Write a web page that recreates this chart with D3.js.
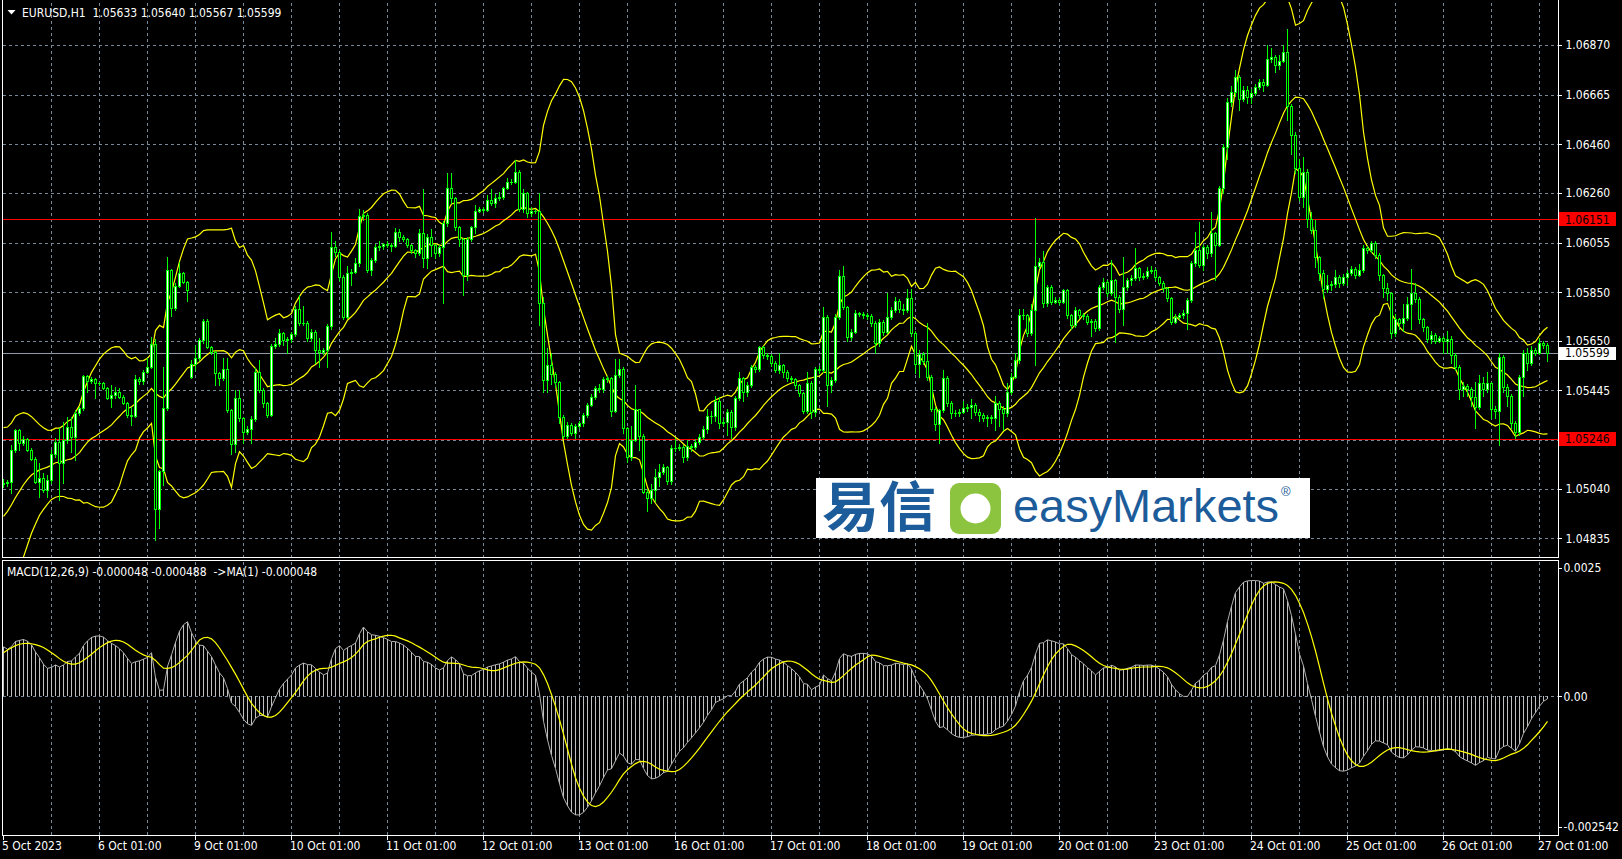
<!DOCTYPE html>
<html><head><meta charset="utf-8">
<script src="https://cdnjs.cloudflare.com/ajax/libs/d3/7.8.5/d3.min.js"></script>
<style>
html,body{margin:0;padding:0;background:#000;overflow:hidden}
svg text{font-family:'DejaVu Sans Condensed','DejaVu Sans',sans-serif;font-stretch:condensed;font-size:12px;fill:#fff}
</style></head><body><script>
// ---------------- DATA (EURUSD H1, 5 Oct 01:00 -> 27 Oct 03:00) ----------------
const dateLabels = ["5 Oct 2023","6 Oct 01:00","9 Oct 01:00","10 Oct 01:00","11 Oct 01:00","12 Oct 01:00","13 Oct 01:00","16 Oct 01:00","17 Oct 01:00","18 Oct 01:00","19 Oct 01:00","20 Oct 01:00","23 Oct 01:00","24 Oct 01:00","25 Oct 01:00","26 Oct 01:00","27 Oct 01:00"];
const labelBars = [0,24,48,72,96,120,144,168,192,216,240,264,288,312,336,360,384];
const priceTicks = [1.06870,1.06665,1.06460,1.06260,1.06055,1.05850,1.05650,1.05445,1.05240,1.05040,1.04835];
const macdTicks = [0.0025,0,-0.002542];
const macdTickText = ["0.0025","0.00","-0.002542"];
const redLevels = [1.06151,1.05246];
const lastPrice = 1.05599;
const titleText = "EURUSD,H1  1.05633 1.05640 1.05567 1.05599";
const macdText = "MACD(12,26,9) -0.000048 -0.000488  ->MA(1) -0.000048";
// closes estimated before the first visible bar (from the band / MACD levels at the left edge)
const warmupCloses = [1.04820,1.04830,1.04810,1.04800,1.04790,1.04780,1.04760,1.04750,1.04730,1.04720,1.04700,1.04690,1.04680,1.04670,1.04660,1.04650,1.04660,1.04680,1.04700,1.04720,1.04760,1.04800,1.04850,1.04880,1.04920,1.04960,1.05000,1.05050,1.05100,1.05150,1.05190,1.05180,1.05120,1.05080];

const opens = [1.05059,1.05062,1.05066,1.05199,1.05282,1.05227,1.05245,1.05199,1.05164,1.05066,1.05082,1.05034,
1.05076,1.05183,1.05232,1.05144,1.05241,1.05296,1.05252,1.05351,1.05371,1.05506,1.05485,1.05492,
1.05477,1.05474,1.05456,1.05412,1.05426,1.05440,1.05419,1.05394,1.05344,1.05340,1.05491,1.05485,
1.05520,1.05543,1.05635,1.04954,1.05113,1.05371,1.05942,1.05784,1.05876,1.05928,1.05891,1.05502,
1.05553,1.05577,1.05653,1.05733,1.05623,1.05605,1.05516,1.05495,1.05532,1.05364,1.05224,1.05412,
1.05330,1.05275,1.05285,1.05326,1.05522,1.05447,1.05392,1.05344,1.05628,1.05637,1.05683,1.05653,
1.05656,1.05678,1.05779,1.05722,1.05722,1.05660,1.05688,1.05612,1.05605,1.05612,1.05711,1.06038,
1.06018,1.05914,1.05749,1.05928,1.05935,1.05970,1.06165,1.06169,1.05942,1.05983,1.06038,1.06042,
1.06048,1.06045,1.06041,1.06100,1.06077,1.06069,1.06045,1.06024,1.06011,1.06096,1.05990,1.06077,
1.06045,1.06011,1.06038,1.06134,1.06282,1.06238,1.06118,1.06069,1.05921,1.06069,1.06118,1.06185,
1.06192,1.06189,1.06231,1.06220,1.06238,1.06242,1.06279,1.06304,1.06306,1.06348,1.06192,1.06258,
1.06178,1.06185,1.06187,1.05807,1.05488,1.05550,1.05513,1.05479,1.05337,1.05257,1.05303,1.05268,
1.05298,1.05309,1.05344,1.05385,1.05417,1.05454,1.05450,1.05491,1.05495,1.05362,1.05509,1.05532,
1.05289,1.05172,1.05241,1.05367,1.05257,1.05027,1.05000,1.05034,1.05087,1.05107,1.05128,1.05073,
1.05206,1.05209,1.05213,1.05169,1.05216,1.05213,1.05234,1.05252,1.05285,1.05340,1.05338,1.05403,
1.05312,1.05315,1.05357,1.05296,1.05412,1.05495,1.05440,1.05467,1.05543,1.05532,1.05623,1.05591,
1.05588,1.05557,1.05529,1.05549,1.05522,1.05495,1.05491,1.05467,1.05433,1.05362,1.05477,1.05357,
1.05532,1.05529,1.05747,1.05467,1.05488,1.05747,1.05917,1.05788,1.05664,1.05687,1.05763,1.05760,
1.05756,1.05752,1.05722,1.05639,1.05729,1.05687,1.05749,1.05777,1.05815,1.05780,1.05777,1.05825,
1.05680,1.05554,1.05595,1.05568,1.05502,1.05367,1.05307,1.05364,1.05495,1.05392,1.05351,1.05353,
1.05357,1.05371,1.05375,1.05385,1.05357,1.05344,1.05330,1.05334,1.05330,1.05395,1.05367,1.05351,
1.05440,1.05502,1.05571,1.05756,1.05755,1.05681,1.05777,1.05958,1.05976,1.05804,1.05873,1.05811,
1.05818,1.05811,1.05859,1.05756,1.05715,1.05777,1.05756,1.05752,1.05729,1.05732,1.05701,1.05873,
1.05894,1.05846,1.05901,1.05832,1.05780,1.05873,1.05901,1.05907,1.05949,1.05914,1.05917,1.05939,
1.05942,1.05912,1.05890,1.05866,1.05825,1.05729,1.05749,1.05756,1.05766,1.05818,1.05969,1.06024,
1.05962,1.06038,1.06011,1.06093,1.06045,1.06279,1.06451,1.06636,1.06677,1.06739,1.06646,1.06684,
1.06657,1.06673,1.06698,1.06719,1.06705,1.06811,1.06819,1.06787,1.06805,1.06842,1.06618,1.06499,
1.06361,1.06244,1.06347,1.06151,1.06107,1.05994,1.05931,1.05862,1.05880,1.05883,1.05912,1.05887,
1.05914,1.05928,1.05945,1.05921,1.05942,1.06031,1.06024,1.06055,1.06004,1.05921,1.05866,1.05846,
1.05683,1.05738,1.05722,1.05742,1.05802,1.05848,1.05821,1.05738,1.05705,1.05656,1.05674,1.05650,
1.05660,1.05650,1.05656,1.05591,1.05543,1.05450,1.05463,1.05450,1.05419,1.05378,1.05474,1.05450,
1.05474,1.05367,1.05361,1.05581,1.05460,1.05422,1.05312,1.05275,1.05499,1.05601,1.05557,1.05612,
1.05601,1.05639,1.05633];

const highs = [1.05080,1.05076,1.05220,1.05285,1.05285,1.05255,1.05250,1.05206,1.05172,1.05144,1.05103,1.05096,
1.05199,1.05247,1.05289,1.05316,1.05337,1.05337,1.05364,1.05378,1.05509,1.05509,1.05502,1.05495,
1.05481,1.05481,1.05460,1.05467,1.05460,1.05454,1.05426,1.05399,1.05378,1.05509,1.05502,1.05529,
1.05577,1.05666,1.05656,1.05118,1.05543,1.05997,1.05946,1.05887,1.05976,1.05935,1.05895,1.05570,
1.05632,1.05660,1.05740,1.05740,1.05628,1.05609,1.05522,1.05577,1.05577,1.05370,1.05447,1.05447,
1.05337,1.05300,1.05340,1.05536,1.05570,1.05454,1.05399,1.05637,1.05660,1.05700,1.05687,1.05666,
1.05687,1.05792,1.05839,1.05792,1.05730,1.05700,1.05695,1.05660,1.05620,1.05720,1.06100,1.06060,
1.06025,1.05920,1.05960,1.05945,1.05990,1.06192,1.06190,1.06175,1.05990,1.06050,1.06060,1.06055,
1.06060,1.06055,1.06115,1.06110,1.06085,1.06075,1.06050,1.06030,1.06110,1.06275,1.06090,1.06110,
1.06050,1.06045,1.06145,1.06341,1.06341,1.06245,1.06125,1.06075,1.06080,1.06125,1.06210,1.06200,
1.06200,1.06250,1.06275,1.06255,1.06262,1.06285,1.06320,1.06318,1.06396,1.06355,1.06275,1.06265,
1.06200,1.06195,1.06258,1.05830,1.05619,1.05600,1.05520,1.05485,1.05345,1.05315,1.05310,1.05305,
1.05320,1.05350,1.05395,1.05430,1.05465,1.05470,1.05500,1.05505,1.05500,1.05574,1.05574,1.05540,
1.05295,1.05300,1.05467,1.05370,1.05265,1.05040,1.05060,1.05120,1.05140,1.05140,1.05135,1.05218,
1.05250,1.05225,1.05220,1.05240,1.05225,1.05245,1.05265,1.05300,1.05370,1.05360,1.05420,1.05419,
1.05330,1.05370,1.05365,1.05420,1.05520,1.05500,1.05480,1.05550,1.05550,1.05630,1.05630,1.05598,
1.05595,1.05565,1.05600,1.05555,1.05530,1.05505,1.05498,1.05472,1.05440,1.05520,1.05485,1.05540,
1.05545,1.05790,1.05755,1.05500,1.05760,1.05942,1.05958,1.05795,1.05700,1.05775,1.05770,1.05770,
1.05765,1.05760,1.05730,1.05740,1.05735,1.05846,1.05790,1.05830,1.05822,1.05800,1.05862,1.05862,
1.05690,1.05610,1.05605,1.05722,1.05510,1.05375,1.05370,1.05530,1.05505,1.05400,1.05365,1.05370,
1.05400,1.05390,1.05410,1.05395,1.05370,1.05350,1.05345,1.05345,1.05420,1.05400,1.05380,1.05475,
1.05515,1.05600,1.05780,1.05780,1.05760,1.05800,1.06155,1.05990,1.06020,1.05880,1.05880,1.05830,
1.05825,1.05865,1.05862,1.05760,1.05790,1.05780,1.05765,1.05760,1.05740,1.05740,1.05880,1.05910,
1.05900,1.05985,1.05905,1.05840,1.05997,1.05910,1.05920,1.06031,1.05955,1.05930,1.05955,1.05960,
1.05950,1.05918,1.05895,1.05870,1.05830,1.05760,1.05765,1.05775,1.05825,1.05980,1.06100,1.06140,
1.06045,1.06045,1.06180,1.06100,1.06290,1.06460,1.06650,1.06700,1.06768,1.06745,1.06700,1.06700,
1.06690,1.06710,1.06730,1.06730,1.06870,1.06856,1.06830,1.06830,1.06870,1.06935,1.06625,1.06510,
1.06400,1.06410,1.06360,1.06180,1.06150,1.06000,1.05940,1.05920,1.05895,1.05940,1.05920,1.05925,
1.05940,1.05960,1.05955,1.05965,1.06045,1.06040,1.06060,1.06060,1.06010,1.05925,1.05890,1.05850,
1.05760,1.05745,1.05800,1.05830,1.05948,1.05890,1.05830,1.05745,1.05710,1.05690,1.05680,1.05670,
1.05670,1.05690,1.05670,1.05600,1.05550,1.05480,1.05470,1.05460,1.05480,1.05510,1.05500,1.05520,
1.05480,1.05380,1.05598,1.05590,1.05470,1.05430,1.05320,1.05510,1.05610,1.05620,1.05630,1.05620,
1.05660,1.05650,1.05640];

const lows = [1.05045,1.05050,1.05020,1.05190,1.05200,1.05220,1.05196,1.05158,1.05062,1.05007,1.05027,1.05007,
1.05062,1.05172,1.04993,1.05062,1.05227,1.05192,1.05158,1.05344,1.05364,1.05440,1.05474,1.05412,
1.05467,1.05450,1.05408,1.05378,1.05412,1.05412,1.05389,1.05337,1.05302,1.05337,1.05471,1.05471,
1.05516,1.05536,1.04830,1.04876,1.05055,1.05364,1.05750,1.05776,1.05870,1.05887,1.05815,1.05495,
1.05530,1.05570,1.05640,1.05618,1.05595,1.05467,1.05467,1.05488,1.05357,1.05183,1.05192,1.05320,
1.05227,1.05265,1.05227,1.05320,1.05440,1.05378,1.05337,1.05340,1.05618,1.05630,1.05633,1.05598,
1.05645,1.05670,1.05715,1.05715,1.05650,1.05650,1.05557,1.05540,1.05595,1.05540,1.05700,1.06000,
1.05900,1.05740,1.05745,1.05880,1.05928,1.05960,1.06150,1.05935,1.05921,1.05975,1.06025,1.06030,
1.06035,1.06020,1.06035,1.06060,1.06060,1.06035,1.06010,1.05995,1.06005,1.05956,1.05950,1.06000,
1.05990,1.06000,1.05805,1.06125,1.06220,1.06105,1.06040,1.05839,1.05900,1.06060,1.06093,1.06180,
1.06180,1.06185,1.06210,1.06200,1.06230,1.06235,1.06275,1.06295,1.06300,1.06185,1.06180,1.06160,
1.06165,1.06175,1.05715,1.05440,1.05440,1.05470,1.05460,1.05310,1.05250,1.05250,1.05260,1.05248,
1.05290,1.05300,1.05335,1.05380,1.05410,1.05440,1.05440,1.05480,1.05340,1.05355,1.05500,1.05270,
1.05151,1.05160,1.05235,1.05200,1.05020,1.04949,1.04980,1.04990,1.05050,1.05100,1.05060,1.05060,
1.05195,1.05200,1.05150,1.05160,1.05195,1.05205,1.05225,1.05245,1.05270,1.05310,1.05320,1.05290,
1.05300,1.05260,1.05250,1.05280,1.05405,1.05400,1.05420,1.05460,1.05520,1.05525,1.05580,1.05575,
1.05545,1.05520,1.05515,1.05500,1.05485,1.05480,1.05455,1.05420,1.05350,1.05350,1.05330,1.05340,
1.05515,1.05520,1.05380,1.05440,1.05480,1.05740,1.05780,1.05650,1.05655,1.05680,1.05750,1.05745,
1.05740,1.05710,1.05600,1.05630,1.05675,1.05680,1.05740,1.05770,1.05770,1.05760,1.05770,1.05670,
1.05515,1.05500,1.05555,1.05490,1.05360,1.05280,1.05230,1.05358,1.05380,1.05330,1.05340,1.05340,
1.05350,1.05360,1.05330,1.05345,1.05320,1.05320,1.05300,1.05310,1.05280,1.05300,1.05280,1.05340,
1.05430,1.05495,1.05560,1.05740,1.05670,1.05675,1.05550,1.05950,1.05790,1.05795,1.05800,1.05805,
1.05800,1.05805,1.05745,1.05700,1.05705,1.05745,1.05740,1.05720,1.05670,1.05690,1.05695,1.05865,
1.05835,1.05840,1.05646,1.05770,1.05715,1.05860,1.05880,1.05900,1.05900,1.05905,1.05910,1.05930,
1.05900,1.05880,1.05855,1.05815,1.05720,1.05722,1.05740,1.05745,1.05700,1.05810,1.05960,1.05955,
1.05940,1.05990,1.06000,1.05900,1.06040,1.06260,1.06400,1.06620,1.06660,1.06600,1.06640,1.06630,
1.06630,1.06665,1.06690,1.06680,1.06700,1.06800,1.06760,1.06770,1.06800,1.06560,1.06420,1.06340,
1.06230,1.06200,1.06120,1.06095,1.05955,1.05900,1.05825,1.05850,1.05860,1.05870,1.05870,1.05880,
1.05880,1.05920,1.05910,1.05915,1.05935,1.06010,1.06015,1.05990,1.05900,1.05830,1.05820,1.05660,
1.05670,1.05700,1.05690,1.05735,1.05700,1.05810,1.05725,1.05690,1.05645,1.05640,1.05640,1.05645,
1.05600,1.05600,1.05560,1.05530,1.05410,1.05420,1.05420,1.05380,1.05290,1.05370,1.05420,1.05440,
1.05330,1.05330,1.05220,1.05440,1.05380,1.05290,1.05247,1.05260,1.05420,1.05530,1.05550,1.05590,
1.05595,1.05620,1.05567];

const closes = [1.05062,1.05066,1.05199,1.05282,1.05227,1.05245,1.05199,1.05164,1.05066,1.05082,1.05034,1.05076,
1.05183,1.05232,1.05144,1.05241,1.05296,1.05252,1.05351,1.05371,1.05506,1.05485,1.05492,1.05477,
1.05474,1.05456,1.05412,1.05426,1.05440,1.05419,1.05394,1.05344,1.05340,1.05491,1.05485,1.05520,
1.05543,1.05635,1.04954,1.05113,1.05371,1.05942,1.05784,1.05876,1.05928,1.05891,1.05859,1.05553,
1.05577,1.05653,1.05733,1.05623,1.05605,1.05516,1.05495,1.05532,1.05364,1.05224,1.05412,1.05330,
1.05275,1.05285,1.05326,1.05522,1.05447,1.05392,1.05344,1.05628,1.05637,1.05683,1.05653,1.05656,
1.05678,1.05779,1.05722,1.05722,1.05660,1.05688,1.05612,1.05605,1.05612,1.05711,1.06038,1.06018,
1.05914,1.05749,1.05928,1.05935,1.05970,1.06165,1.06169,1.05942,1.05983,1.06038,1.06042,1.06048,
1.06045,1.06041,1.06100,1.06077,1.06069,1.06045,1.06024,1.06011,1.06096,1.05990,1.06077,1.06045,
1.06011,1.06038,1.06134,1.06282,1.06238,1.06118,1.06069,1.05921,1.06069,1.06118,1.06185,1.06192,
1.06189,1.06231,1.06220,1.06238,1.06242,1.06279,1.06304,1.06306,1.06348,1.06192,1.06258,1.06178,
1.06185,1.06187,1.05807,1.05488,1.05550,1.05513,1.05479,1.05337,1.05257,1.05303,1.05268,1.05298,
1.05309,1.05344,1.05385,1.05417,1.05454,1.05450,1.05491,1.05495,1.05362,1.05509,1.05532,1.05289,
1.05172,1.05241,1.05367,1.05257,1.05027,1.05000,1.05034,1.05087,1.05107,1.05128,1.05073,1.05206,
1.05209,1.05213,1.05169,1.05216,1.05213,1.05234,1.05252,1.05285,1.05340,1.05338,1.05403,1.05312,
1.05315,1.05357,1.05296,1.05412,1.05495,1.05440,1.05467,1.05543,1.05532,1.05623,1.05591,1.05588,
1.05557,1.05529,1.05549,1.05522,1.05495,1.05491,1.05467,1.05433,1.05362,1.05477,1.05357,1.05532,
1.05529,1.05747,1.05467,1.05488,1.05747,1.05917,1.05788,1.05664,1.05687,1.05763,1.05760,1.05756,
1.05752,1.05722,1.05639,1.05729,1.05687,1.05749,1.05777,1.05815,1.05780,1.05777,1.05825,1.05680,
1.05554,1.05595,1.05568,1.05502,1.05367,1.05307,1.05364,1.05495,1.05392,1.05351,1.05353,1.05357,
1.05371,1.05375,1.05385,1.05357,1.05344,1.05330,1.05334,1.05330,1.05395,1.05367,1.05351,1.05440,
1.05502,1.05571,1.05756,1.05755,1.05681,1.05777,1.05958,1.05976,1.05804,1.05873,1.05811,1.05818,
1.05811,1.05859,1.05756,1.05715,1.05777,1.05756,1.05752,1.05729,1.05732,1.05701,1.05873,1.05894,
1.05846,1.05901,1.05832,1.05780,1.05873,1.05901,1.05907,1.05949,1.05914,1.05917,1.05939,1.05942,
1.05912,1.05890,1.05866,1.05825,1.05729,1.05749,1.05756,1.05766,1.05818,1.05969,1.06024,1.05962,
1.06038,1.06011,1.06093,1.06045,1.06279,1.06451,1.06636,1.06677,1.06739,1.06646,1.06684,1.06657,
1.06673,1.06698,1.06719,1.06705,1.06811,1.06819,1.06787,1.06805,1.06842,1.06618,1.06499,1.06361,
1.06244,1.06347,1.06151,1.06107,1.05994,1.05931,1.05862,1.05880,1.05883,1.05912,1.05887,1.05914,
1.05928,1.05945,1.05921,1.05942,1.06031,1.06024,1.06055,1.06004,1.05921,1.05866,1.05846,1.05683,
1.05738,1.05722,1.05742,1.05802,1.05848,1.05821,1.05738,1.05705,1.05656,1.05674,1.05650,1.05660,
1.05650,1.05656,1.05591,1.05543,1.05450,1.05463,1.05450,1.05419,1.05378,1.05474,1.05450,1.05474,
1.05367,1.05361,1.05581,1.05460,1.05422,1.05312,1.05275,1.05499,1.05601,1.05557,1.05612,1.05601,
1.05639,1.05633,1.05599];

// ---------------- LAYOUT ----------------
const W = 1622, H = 859;
const L = 2.5, R = 1558.5, mainTop = 1.5, mainBot = 557.5, macdTop = 560.5, macdBot = 835.5;
const n = closes.length;
const LIME = '#00ff00', GRID = '#778899', YEL = '#ffff00', SILVER = '#c0c0c0';

const x = d3.scaleLinear().domain([0, 386]).range([3.5, 1547.5]);
const y = d3.scaleLinear().domain([1.04835, 1.06870]).range([538.3, 45]);
const ym = d3.scaleLinear().domain([-0.002542, 0.0025]).range([826.5, 568]);
const sy = v => Math.round(y(v)) + 0.5;
const sym = v => Math.round(ym(v)) + 0.5;

// ---------------- INDICATORS (from the closes) ----------------
const all = warmupCloses.concat(closes);
function ema(arr, p) { const k = 2 / (p + 1); const out = []; arr.forEach((v, i) => out.push(i === 0 ? v : out[i - 1] + k * (v - out[i - 1]))); return out; }
const e12 = ema(all, 12), e26 = ema(all, 26);
const macdAll = all.map((v, i) => e12[i] - e26[i]);
const sigAll = macdAll.map((v, i) => d3.mean(macdAll.slice(Math.max(0, i - 8), i + 1)));
const bbAll = all.map((v, i) => {
  const w = all.slice(Math.max(0, i - 19), i + 1); const m = d3.mean(w);
  const sd = Math.sqrt(d3.mean(w.map(a => (a - m) * (a - m))));
  return { m: m, u: m + 2 * sd, l: m - 2 * sd };
});
const off = warmupCloses.length;
const macd = macdAll.slice(off), signal = sigAll.slice(off), bands = bbAll.slice(off);

// ---------------- SVG ----------------
const svg = d3.select('body').append('svg').attr('width', W).attr('height', H);
svg.append('rect').attr('width', W).attr('height', H).attr('fill', '#000');
const defs = svg.append('defs');
defs.append('clipPath').attr('id', 'cMain').append('rect').attr('x', 3).attr('y', 2).attr('width', 1555).attr('height', 555);
defs.append('clipPath').attr('id', 'cMacd').append('rect').attr('x', 3).attr('y', 561).attr('width', 1555).attr('height', 274);

// grid
const grid = svg.append('g').attr('stroke', GRID).attr('stroke-dasharray', '3,3').attr('shape-rendering', 'crispEdges');
grid.selectAll('line.h').data(priceTicks).join('line').attr('class', 'h')
  .attr('x1', L).attr('x2', R).attr('y1', d => sy(d)).attr('y2', d => sy(d));
const vBars = d3.range(12, n, 12);
grid.selectAll('line.v').data(vBars).join('line').attr('class', 'v')
  .attr('x1', d => x(d)).attr('x2', d => x(d)).attr('y1', mainTop + 1).attr('y2', mainBot);
grid.selectAll('line.vm').data(vBars).join('line').attr('class', 'vm')
  .attr('x1', d => x(d)).attr('x2', d => x(d)).attr('y1', macdTop + 1).attr('y2', macdBot);
grid.append('line').attr('x1', L).attr('x2', R).attr('y1', sym(0)).attr('y2', sym(0));

// horizontal level lines
const main = svg.append('g').attr('clip-path', 'url(#cMain)');
main.selectAll('line.red').data(redLevels).join('line').attr('class', 'red')
  .attr('x1', L).attr('x2', R).attr('y1', d => sy(d)).attr('y2', d => sy(d))
  .attr('stroke', '#ff0000').attr('shape-rendering', 'crispEdges');
main.append('line').attr('x1', L).attr('x2', R).attr('y1', sy(lastPrice)).attr('y2', sy(lastPrice))
  .attr('stroke', '#8f9aa8').attr('shape-rendering', 'crispEdges');

// Bollinger bands
['u', 'm', 'l'].forEach(k => {
  main.append('path').datum(bands).attr('fill', 'none').attr('stroke', YEL).attr('stroke-width', 1.2)
    .attr('d', d3.line().x((d, i) => x(i)).y(d => y(d[k])));
});

// candles
const idx = d3.range(n);
const cg = main.append('g').attr('shape-rendering', 'crispEdges');
cg.selectAll('line.wick').data(idx).join('line').attr('class', 'wick')
  .attr('x1', i => x(i)).attr('x2', i => x(i))
  .attr('y1', i => Math.round(y(highs[i]))).attr('y2', i => Math.round(y(lows[i])) + 1)
  .attr('stroke', LIME);
const bodyTop = i => Math.round(y(Math.max(opens[i], closes[i])));
const bodyBot = i => Math.round(y(Math.min(opens[i], closes[i])));
cg.selectAll('rect.body').data(idx.filter(i => bodyBot(i) > bodyTop(i))).join('rect').attr('class', 'body')
  .attr('x', i => x(i) - 1).attr('width', 2)
  .attr('y', i => bodyTop(i) + 0.5).attr('height', i => bodyBot(i) - bodyTop(i))
  .attr('fill', i => closes[i] >= opens[i] ? '#ffffff' : '#000000').attr('stroke', LIME);
cg.selectAll('line.doji').data(idx.filter(i => bodyBot(i) <= bodyTop(i))).join('line').attr('class', 'doji')
  .attr('x1', i => x(i) - 1.5).attr('x2', i => x(i) + 1.5)
  .attr('y1', i => bodyTop(i) + 0.5).attr('y2', i => bodyTop(i) + 0.5).attr('stroke', LIME);

// watermark logo
const logo = svg.append('g');
logo.append('rect').attr('x', 816).attr('y', 478).attr('width', 494).attr('height', 60).attr('fill', '#ffffff');
logo.append('text').attr('x', 822).attr('y', 527).text('易信')
  .style('font-family', "'Noto Sans CJK SC'").style('font-size', '54px').style('font-weight', 700)
  .style('fill', '#1d5c9a').attr('textLength', 114).attr('lengthAdjust', 'spacingAndGlyphs');
logo.append('rect').attr('x', 950).attr('y', 483).attr('width', 51).attr('height', 51).attr('rx', 9).attr('fill', '#8cc43f');
logo.append('circle').attr('cx', 975.5).attr('cy', 508.5).attr('r', 15).attr('fill', '#ffffff');
logo.append('text').attr('x', 1013).attr('y', 522).text('easyMarkets')
  .style('font-family', "'Liberation Sans',Arial,sans-serif").style('font-size', '46px').style('font-stretch', 'normal')
  .style('fill', '#1d5c9a').attr('textLength', 266).attr('lengthAdjust', 'spacingAndGlyphs');
logo.append('text').attr('x', 1281).attr('y', 496).text('®')
  .style('font-family', "'Liberation Sans',Arial,sans-serif").style('font-size', '13px').style('fill', '#1d5c9a');

// MACD panel
const mg = svg.append('g').attr('clip-path', 'url(#cMacd)');
const z0 = Math.round(ym(0));
mg.append('g').attr('shape-rendering', 'crispEdges').selectAll('line').data(idx).join('line')
  .attr('x1', i => x(i)).attr('x2', i => x(i))
  .attr('y1', z0).attr('y2', i => Math.round(ym(macd[i])))
  .attr('stroke', SILVER);
mg.append('path').datum(macd).attr('fill', 'none').attr('stroke', '#b0b0b0').attr('stroke-width', 1)
  .attr('d', d3.line().x((d, i) => x(i)).y(d => ym(d)));
mg.append('path').datum(signal).attr('fill', 'none').attr('stroke', YEL).attr('stroke-width', 1.2)
  .attr('d', d3.line().x((d, i) => x(i)).y(d => ym(d)));

// frames
const fr = svg.append('g').attr('stroke', '#ffffff').attr('fill', 'none').attr('shape-rendering', 'crispEdges');
fr.append('path').attr('d', `M${L},0 V${mainBot} H${R} V0`);
fr.append('path').attr('d', `M${L},${macdTop} H${R} V${macdBot} H${L} Z`);

// right price axis
const fontFam = "'DejaVu Sans Condensed','DejaVu Sans',sans-serif";
const ay = svg.append('g').attr('transform', `translate(${R},0)`)
  .call(d3.axisRight(y).tickValues(priceTicks).tickSize(3).tickPadding(4).tickFormat(d3.format('.5f')));
ay.select('.domain').remove();
ay.selectAll('line').attr('stroke', '#fff').attr('shape-rendering', 'crispEdges');
ay.selectAll('text').attr('fill', '#fff').style('font-family', fontFam).style('font-size', '12px');

// level labels
const lab = svg.append('g');
redLevels.forEach(v => {
  lab.append('rect').attr('x', 1559).attr('y', Math.round(y(v)) - 7).attr('width', 57).attr('height', 14).attr('fill', '#ff0000');
  lab.append('text').attr('x', 1565).attr('y', y(v)).attr('dy', '0.36em').text(d3.format('.5f')(v)).style('fill', '#000');
});
lab.append('rect').attr('x', 1559).attr('y', Math.round(y(lastPrice)) - 6).attr('width', 57).attr('height', 13).attr('fill', '#ffffff');
lab.append('text').attr('x', 1565).attr('y', y(lastPrice)).attr('dy', '0.36em').text(d3.format('.5f')(lastPrice)).style('fill', '#000');

// MACD axis
const am = svg.append('g').attr('transform', `translate(${R},0)`)
  .call(d3.axisRight(ym).tickValues(macdTicks).tickSize(3).tickPadding(2).tickFormat((d, i) => macdTickText[i]));
am.select('.domain').remove();
am.selectAll('line').attr('stroke', '#fff').attr('shape-rendering', 'crispEdges');
am.selectAll('text').attr('fill', '#fff').style('font-family', fontFam).style('font-size', '12px');

// time axis
const ax = svg.append('g').attr('transform', `translate(0,${macdBot})`)
  .call(d3.axisBottom(x).tickValues(labelBars).tickSize(4).tickPadding(2).offset(0).tickFormat((d, i) => dateLabels[i]));
ax.select('.domain').remove();
ax.selectAll('line').attr('stroke', '#fff').attr('shape-rendering', 'crispEdges');
ax.selectAll('text').attr('fill', '#fff').attr('text-anchor', 'start').attr('dx', -1.5)
  .style('font-family', fontFam).style('font-size', '12px');

// titles
svg.append('path').attr('d', 'M7.5,10 L15.5,10 L11.5,14.5 Z').attr('fill', '#fff');
svg.append('text').attr('x', 22).attr('y', 17).text(titleText).style('white-space', 'pre');
svg.append('text').attr('x', 7).attr('y', 576).text(macdText).style('white-space', 'pre');
</script></body></html>
